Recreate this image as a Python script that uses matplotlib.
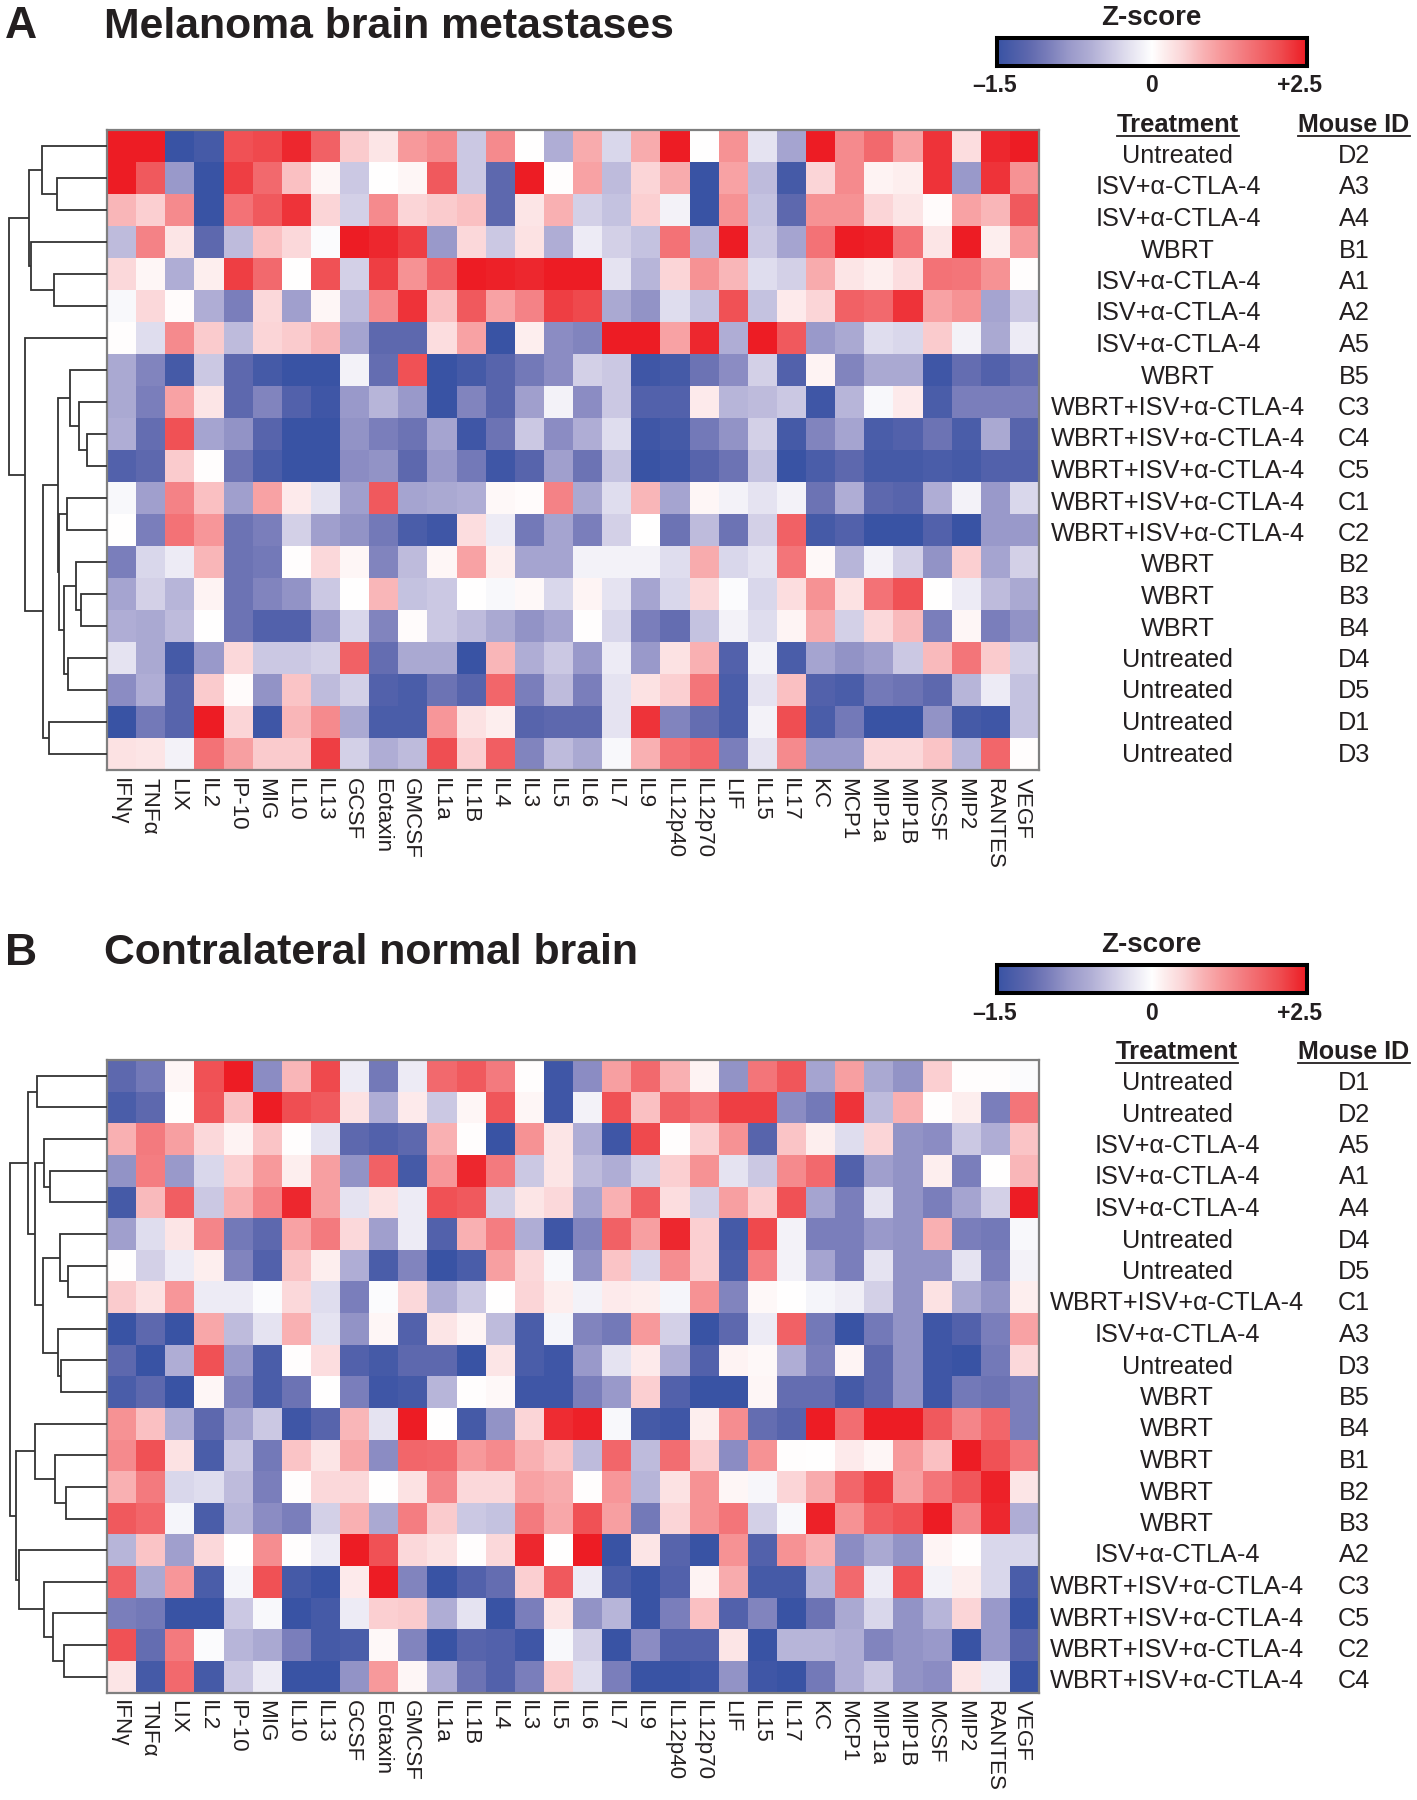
import matplotlib
matplotlib.use("Agg")
import matplotlib.pyplot as plt
from matplotlib.colors import LinearSegmentedColormap, TwoSlopeNorm
from matplotlib.lines import Line2D
import numpy as np

plt.rcParams['font.family'] = ['Liberation Sans', 'DejaVu Sans']

cytokines = ["IFNγ","TNFα","LIX","IL2","IP-10","MIG","IL10","IL13","GCSF","Eotaxin","GMCSF","IL1a","IL1B","IL4","IL3","IL5",
             "IL6","IL7","IL9","IL12p40","IL12p70","LIF","IL15","IL17","KC","MCP1","MIP1a","MIP1B","MCSF","MIP2","RANTES","VEGF"]

U, W, I, C = "Untreated", "WBRT", "ISV+α-CTLA-4", "WBRT+ISV+α-CTLA-4"
treat_a = [U,I,I,W,I,I,I,W,C,C,C,C,C,W,W,W,U,U,U,U]
mouse_a = ["D2","A3","A4","B1","A1","A2","A5","B5","C3","C4","C5","C1","C2","B2","B3","B4","D4","D5","D1","D3"]
treat_b = [U,U,I,I,I,U,U,C,I,U,W,W,W,W,W,I,C,C,C,C]
mouse_b = ["D1","D2","A5","A1","A4","D4","D5","C1","A3","D3","B5","B4","B1","B2","B3","A2","C3","C5","C2","C4"]

z_a = [
[2.5,2.5,-1.5,-1.4,2.0,2.1,2.4,1.8,0.6,0.3,1.1,1.3,-0.4,1.3,0,-0.6, 0.9,-0.3,0.9,2.5,0,1.2,-0.2,-0.7,2.5,1.3,1.7,1.0,2.3,0.4,2.4,2.5],
[2.5,1.9,-0.8,-1.5,2.2,1.7,0.7,0.1,-0.4,0,0.1,1.9,-0.4,-1.2,2.5,0.02, 1.0,-0.5,0.5,0.9,-1.5,1.0,-0.5,-1.4,0.5,1.3,0.15,0.2,2.3,-0.8,2.3,1.2],
[0.8,0.55,1.3,-1.5,1.6,1.9,2.3,0.5,-0.35,1.3,0.5,0.6,0.7,-1.2,0.3,0.85, -0.35,-0.45,0.55,-0.1,-1.5,1.2,-0.45,-1.2,1.2,1.2,0.5,0.3,0.05,1.0,0.8,1.9],
[-0.5,1.4,0.3,-1.2,-0.5,0.7,0.45,-0.03,2.5,2.4,2.2,-0.8,0.45,-0.4,0.35,-0.6, -0.15,-0.35,-0.45,1.6,-0.55,2.5,-0.4,-0.7,1.6,2.5,2.45,1.6,0.3,2.5,0.2,1.1],
[0.45,0.1,-0.6,0.2,2.2,1.7,0,2.0,-0.35,2.2,1.2,1.8,2.5,2.45,2.4,2.5, 2.5,-0.2,-0.55,0.5,1.2,0.8,-0.25,-0.35,0.9,0.3,0.2,0.4,1.6,1.55,1.2,0.02],
[-0.05,0.45,0.05,-0.6,-1.0,0.45,-0.75,0.1,-0.5,1.3,2.3,0.7,1.9,1.0,1.4,2.2, 2.1,-0.65,-0.85,-0.25,-0.45,2.0,-0.45,0.25,0.5,1.8,1.7,2.3,1.0,1.2,-0.7,-0.4],
[0.02,-0.25,1.3,0.6,-0.5,0.5,0.6,0.8,-0.7,-1.2,-1.2,0.4,1.0,-1.5,0.2,-0.9, -0.95,2.5,2.5,1.0,2.4,-0.6,2.5,1.9,-0.8,-0.65,-0.25,-0.3,0.6,-0.1,-0.65,-0.15],
[-0.65,-0.95,-1.4,-0.4,-1.2,-1.4,-1.5,-1.5,-0.1,-1.15,2.0,-1.5,-1.4,-1.25,-1.05,-0.9, -0.35,-0.4,-1.45,-1.4,-1.1,-0.9,-0.35,-1.3,0.15,-0.95,-0.65,-0.65,-1.45,-1.15,-1.3,-1.15],
[-0.65,-1.0,1.0,0.3,-1.2,-0.95,-1.3,-1.45,-0.8,-0.55,-0.8,-1.5,-0.95,-1.25,-0.75,-0.1, -0.9,-0.4,-1.3,-1.3,0.25,-0.55,-0.5,-0.4,-1.45,-0.55,-0.05,0.25,-1.35,-1.0,-1.0,-1.0],
[-0.6,-1.15,2.0,-0.7,-0.85,-1.25,-1.5,-1.5,-0.85,-1.0,-1.1,-0.7,-1.45,-1.1,-0.4,-0.9, -0.6,-0.25,-1.45,-1.4,-1.05,-0.85,-0.35,-1.4,-0.95,-0.7,-1.35,-1.3,-1.1,-1.35,-0.65,-1.25],
[-1.3,-1.2,0.6,0.02,-1.1,-1.35,-1.5,-1.5,-0.9,-0.85,-1.2,-0.8,-1.05,-1.45,-1.25,-0.75, -1.1,-0.45,-1.5,-1.45,-1.25,-1.1,-0.45,-1.5,-1.35,-1.2,-1.4,-1.4,-1.35,-1.4,-1.3,-1.3],
[-0.05,-0.75,1.4,0.7,-0.75,1.0,0.25,-0.2,-0.75,1.9,-0.7,-0.65,-0.6,0.08,0.05,1.4, -0.65,-0.25,0.8,-0.7,0.1,-0.1,-0.2,-0.1,-1.1,-0.6,-1.2,-1.25,-0.6,-0.1,-0.8,-0.3],
[0,-1.0,1.6,1.15,-1.1,-1.0,-0.35,-0.75,-0.85,-1.05,-1.35,-1.45,0.4,-0.15,-1.05,-0.7, -1.0,-0.35,0,-1.1,-0.5,-1.1,-0.35,1.8,-1.4,-1.3,-1.5,-1.5,-1.3,-1.5,-0.8,-0.8],
[-1.0,-0.3,-0.15,0.8,-1.1,-1.05,0.02,0.45,0.1,-0.95,-0.5,0.1,1.0,0.2,-0.7,-0.7, -0.1,-0.1,-0.1,-0.25,0.9,-0.3,-0.2,1.55,0.08,-0.55,-0.1,-0.35,-0.85,0.55,-0.7,-0.35],
[-0.7,-0.35,-0.55,0.15,-1.1,-0.95,-0.85,-0.4,0,0.8,-0.45,-0.4,0,-0.05,0.08,-0.3, 0.12,-0.2,-0.7,-0.3,0.45,-0.03,-0.3,0.4,1.2,0.35,1.6,2.0,0,-0.15,-0.5,-0.65],
[-0.6,-0.65,-0.5,0,-1.1,-1.3,-1.3,-0.8,-0.3,-0.95,0.05,-0.4,-0.5,-0.65,-0.85,-0.7, 0.02,-0.3,-1.0,-1.15,-0.45,-0.1,-0.25,0.12,0.9,-0.35,0.45,0.75,-1.0,0.1,-1.0,-0.85],
[-0.2,-0.65,-1.4,-0.8,0.45,-0.4,-0.4,-0.35,1.8,-1.15,-0.65,-0.65,-1.5,0.8,-0.6,-0.4, -0.8,-0.15,-0.8,0.35,0.85,-1.3,-0.1,-1.35,-0.7,-0.85,-0.75,-0.4,0.75,1.55,0.6,-0.35],
[-0.9,-0.6,-1.25,0.6,0.05,-0.85,0.65,-0.5,-0.35,-1.3,-1.35,-1.1,-1.25,1.75,-1.0,-0.5, -1.0,-0.2,0.35,0.55,1.55,-1.35,-0.2,0.7,-1.3,-1.35,-1.05,-1.1,-1.2,-0.55,-0.15,-0.45],
[-1.5,-1.05,-1.25,2.5,0.5,-1.45,0.8,1.3,-0.65,-1.35,-1.35,1.15,0.35,0.2,-1.25,-1.2, -1.2,-0.2,2.3,-0.95,-1.15,-1.35,-0.1,2.05,-1.35,-1.05,-1.5,-1.5,-0.85,-1.4,-1.45,-0.45],
[0.35,0.3,-0.1,1.6,1.05,0.6,0.6,2.2,-0.35,-0.6,-0.5,2.05,0.55,1.85,-0.95,-0.5, -0.65,-0.05,0.85,1.6,1.75,-1.0,-0.2,1.3,-0.8,-0.8,0.45,0.45,0.65,-0.55,1.75,0.02],
]

z_b = [
[-1.2,-1.05,0.1,2.0,2.5,-0.9,0.8,2.1,-0.15,-1.05,-0.15,1.7,1.9,1.5,0.02,-1.45, -0.9,1.05,1.7,0.85,0.15,-0.85,1.55,1.95,-0.7,1.05,-0.65,-0.85,0.55,0.02,0.02,-0.03],
[-1.35,-1.2,0.03,1.95,0.7,2.5,2.05,1.9,0.35,-0.6,0.25,-0.4,0.1,1.95,0.1,-1.45, -0.1,2.0,0.7,1.8,1.6,2.2,2.2,-0.9,-1.05,2.3,-0.5,0.85,0.03,0.2,-1.0,1.55],
[0.85,1.5,1.05,0.45,0.15,0.65,0.02,-0.2,-1.2,-1.3,-1.2,0.85,0.03,-1.5,1.2,0.3, -0.6,-1.45,2.1,0.03,0.55,1.2,-1.25,0.65,0.2,-0.25,0.5,-0.85,-0.9,-0.4,-0.6,0.65],
[-0.85,1.45,-0.8,-0.3,0.55,1.1,0.2,1.05,-0.85,1.8,-1.4,1.15,2.4,1.5,-0.4,0.3, -0.5,-0.6,-0.35,0.55,1.2,-0.2,-0.4,1.3,1.7,-1.3,-0.75,-0.85,0.2,-1.0,0,0.8],
[-1.4,0.75,1.85,-0.4,0.85,1.4,2.4,1.05,-0.2,0.35,-0.15,2.0,1.9,-0.35,0.3,0.45, -0.7,0.85,1.85,0.4,-0.35,1.05,0.55,2.0,-0.7,-1.0,-0.2,-0.85,-1.0,-0.7,-0.35,2.5],
[-0.75,-0.25,0.3,1.35,-1.05,-1.2,1.0,1.5,0.45,-0.75,-0.15,-1.3,0.85,1.45,-0.6,-1.45, -0.95,1.8,1.05,2.4,0.55,-1.4,2.1,-0.1,-1.0,-1.0,-0.8,-0.85,0.85,-1.0,-1.05,-0.05],
[0,-0.35,-0.15,0.2,-0.95,-1.3,0.65,0.2,-0.6,-1.35,-0.95,-1.5,-1.35,1.05,0.45,-0.05, -0.85,0.65,-0.3,1.25,0.55,-1.35,1.45,-0.1,-0.7,-1.0,-0.2,-0.85,-0.85,-0.2,-1.0,-0.1],
[0.6,0.35,1.15,-0.15,-0.15,-0.03,0.45,-0.25,-1.0,-0.03,0.45,-0.6,-0.4,0.0,0.5,0.2, -0.1,0.25,0.2,-0.08,1.2,-0.95,0.08,0,-0.08,-0.12,-0.35,-0.85,0.35,-0.65,-0.85,0.2],
[-1.5,-1.2,-1.5,0.95,-0.5,-0.2,0.85,-0.2,-0.85,0.1,-1.3,0.3,0.12,-0.5,-1.35,-0.08, -0.95,-1.05,1.1,-0.35,-1.5,-1.2,-0.15,1.8,-1.05,-1.5,-1.05,-0.85,-1.45,-1.3,-1.0,1.0],
[-1.2,-1.5,-0.6,2.0,-0.8,-1.35,0.02,0.4,-1.3,-1.4,-1.2,-1.2,-1.5,0.3,-1.35,-1.45, -0.8,-0.2,0.25,-0.6,-1.3,0.15,0.08,-0.6,-1.0,0.12,-1.2,-0.85,-1.45,-1.5,-1.05,0.45],
[-1.35,-1.2,-1.5,0.1,-0.95,-1.35,-1.1,0,-1.0,-1.45,-1.4,-0.55,0.02,0.08,-1.45,-1.45, -1.0,-0.8,0.55,-1.3,-1.5,-1.5,0.1,-1.15,-1.15,-1.4,-1.2,-0.85,-1.45,-1.05,-1.1,-1.0],
[1.2,0.7,-0.6,-1.2,-0.7,-0.4,-1.45,-1.25,0.8,-0.2,2.5,0,-1.4,-0.85,0.5,2.35, 2.45,-0.05,-1.4,-1.45,0.2,1.25,-1.15,-1.25,2.5,1.65,2.5,2.5,1.9,1.35,1.75,-1.0],
[1.3,2.0,0.35,-1.35,-0.4,-1.05,0.65,0.3,0.95,-0.9,1.75,1.7,1.1,1.3,0.85,0.65, -0.5,1.75,-0.5,1.65,0.55,-0.9,1.2,0.02,0,0.25,0.1,1.1,0.7,2.5,2.0,1.55],
[0.85,1.5,-0.3,-0.25,-0.5,-1.0,0.02,0.45,0.45,0,0.35,1.35,0.45,0.45,1.0,0.9, 0.02,1.15,-0.55,0.35,1.2,0.1,-0.06,0.5,0.9,1.75,2.2,1.05,1.55,1.95,2.45,0.3],
[1.9,1.75,-0.08,-1.35,-0.55,-0.9,-1.0,-0.35,0.85,-0.65,1.45,0.6,-0.4,-0.45,1.5,0.95, 2.0,1.05,-1.05,0.5,1.2,1.55,-0.35,-0.05,2.45,1.2,1.85,2.0,2.5,1.35,2.4,-0.6],
[-0.55,0.65,-0.75,0.45,0,1.25,0.02,-0.15,2.5,2.0,0.45,0.35,0.02,0.45,2.4,0, 2.5,-1.5,0.3,-1.25,-1.5,1.2,-1.3,1.2,0.85,-0.9,-0.65,-0.85,0.12,0.02,-0.3,-0.3],
[1.8,-0.65,1.15,-1.35,-0.08,2.0,-1.4,-1.5,0.25,2.5,-0.95,-1.5,-1.3,-1.15,0.55,1.9, -0.15,-1.35,-1.5,-1.3,0.15,0.9,-1.4,-1.4,-0.55,1.7,-0.15,2.0,-0.1,0.2,-0.3,-1.35],
[-1.0,-1.05,-1.5,-1.5,-0.4,-0.05,-1.5,-1.4,-0.15,0.55,0.6,-0.6,-0.2,-1.5,-1.0,0.3, -0.85,-0.55,-1.5,-1.0,0.7,-1.3,-0.95,-1.5,-1.1,-0.65,-0.3,-0.85,-0.55,0.5,-0.8,-1.5],
[2.0,-1.15,1.5,-0.03,-0.55,-0.65,-1.0,-1.4,-1.35,0.08,-0.95,-1.5,-1.25,-1.3,-1.45,-0.05, -0.35,-1.5,-0.9,-1.3,-1.3,0.3,-1.5,-0.55,-0.55,-0.6,-0.95,-0.85,-0.8,-1.5,-0.8,-1.25],
[0.3,-1.4,1.7,-1.4,-0.4,-0.15,-1.5,-1.5,-0.85,1.1,0.1,-0.6,-1.1,-1.3,-1.0,0.6, -0.25,-1.0,-1.5,-1.5,-1.45,-0.85,-1.45,-1.5,-1.05,-0.6,-0.4,-0.85,-0.9,0.3,-0.15,-1.5],
]

# Dendrograms as nested merges: (merge height, child, child); integer leaves are rows
tree_a = (98.5,
  (78.5, (65.2, 0, (50.4, 1, 2)), (75.6, 3, (53.4, 4, 5))),
  (82.0, 6, (63.7,
     (49.0, (37.0, 7, (28.2, 8, (19.7, 9, 10))),
            (48.0, (40.4, 11, 12), (43.4, (31.2, 13, (25.6, 14, 15)), (38.6, 16, 17)))),
     (57.8, 18, 19))))
tree_b = (97.0,
  (79.3, (70.0, 0, 1),
         (72.0, (62.6, 2, (57.0, 3, 4)),
                (64.5, (47.0, 5, (39.3, 6, 7)), (48.5, 8, (46.0, 9, 10))))),
  (91.0, (72.0, 11, (51.5, 12, (41.0, 13, 14))),
         (88.5, 15, (63.3, 16, (54.0, 17, (43.0, 18, 19))))))

W_PX, H_PX = 1417, 1800
HEAT_L, HEAT_R = 107, 1039
GREY = "#7f7f7f"
INK = "#231F20"
# Colour ramp: stop position on the normalised -1.5 .. 0 .. +2.5 scale, then colour
ramp_pos = [0.0, 0.1, 0.167, 0.233, 0.3, 0.367, 0.433, 0.5, 0.54, 0.6, 0.66, 0.72, 0.78, 0.84, 0.92, 1.0]
ramp_col = ["#3953A4", "#5E68AE", "#7B7FBB", "#9A9ACA", "#B0AED5", "#CCC9E4", "#E6E4F1", "#FFFFFF",
            "#FDEEEE", "#FBD5D7", "#F9B5B7", "#F79A9C", "#F48286", "#F26A6E", "#EF4A4E", "#ED1C24"]
cmap = LinearSegmentedColormap.from_list("z", list(zip(ramp_pos, ramp_col)))
norm = TwoSlopeNorm(vmin=-1.5, vcenter=0, vmax=2.5)

fig = plt.figure(figsize=(W_PX/100, H_PX/100), dpi=100, facecolor="white")

def px_axes(l, t, r, b):
    return fig.add_axes([l/W_PX, 1-b/H_PX, (r-l)/W_PX, (b-t)/H_PX])

over = fig.add_axes([0, 0, 1, 1], zorder=5)
over.set_xlim(0, W_PX); over.set_ylim(H_PX, 0); over.axis("off"); over.patch.set_alpha(0)

def draw_tree(ax, node):
    if isinstance(node, int):
        return 0.0, node + 0.5
    h, a, b = node
    ha, ya = draw_tree(ax, a)
    hb, yb = draw_tree(ax, b)
    ax.plot([ha, h, h, hb], [ya, ya, yb, yb], color="#333333", lw=1.3, solid_joinstyle="miter", solid_capstyle="butt")
    return h, (ya + yb) / 2

def underlined(x, y, s, size):
    t = over.text(x, y, s, fontsize=size, fontweight="bold", ha="center", va="center", color=INK)
    bb = t.get_window_extent(fig.canvas.get_renderer())
    over.add_line(Line2D([bb.x0, bb.x1], [y + 11, y + 11], color=INK, lw=1.3))

def panel(letter, title, z, tree, treat, mouse, top, bottom, shift, hdr_y, row_y0, tx):
    data = np.array(z)
    ax = px_axes(HEAT_L, top, HEAT_R, bottom)
    ax.pcolormesh(np.arange(33), np.arange(21), data, cmap=cmap, norm=norm, linewidth=0, rasterized=True)
    ax.set_ylim(20, 0); ax.set_xlim(0, 32)
    ax.set_xticks([]); ax.set_yticks([])
    for s in ax.spines.values():
        s.set_color(GREY); s.set_linewidth(1.6)

    d = px_axes(0, top, HEAT_L, bottom)
    d.set_xlim(HEAT_L, 0); d.set_ylim(20, 0); d.axis("off")
    draw_tree(d, tree)

    col_w = (HEAT_R - HEAT_L) / 32
    for i, name in enumerate(cytokines):
        over.text(HEAT_L + (i + .5) * col_w - 2, bottom + 8, name, rotation=270, ha="center", va="top",
                  fontsize=16.1, color=INK)

    over.text(5, 26.5 + shift, letter, fontsize=32, fontweight="bold", va="center", ha="left", color=INK)
    over.text(104.5, 26.5 + shift, title, fontsize=30.75, fontweight="bold", va="center", ha="left", color=INK)

    over.text(1151, 18 + shift, "Z-score", fontsize=20, fontweight="bold", ha="center", va="center", color=INK)
    cb = px_axes(997, 38 + shift, 1307, 66 + shift)
    cb.imshow(np.linspace(0, 1, 256)[None, :], cmap=cmap, aspect="auto", vmin=0, vmax=1)
    cb.set_xticks([]); cb.set_yticks([])
    for s in cb.spines.values():
        s.set_color("black"); s.set_linewidth(2.9)
    for x, s in [(995, "–1.5"), (1151, "0"), (1300, "+2.5")]:
        over.text(x, 86 + shift, s, fontsize=16.5, fontweight="bold", ha="center", va="center", color=INK)

    underlined(tx, hdr_y, "Treatment", 18.4)
    underlined(1354, hdr_y, "Mouse ID", 18.1)
    for i, (t, m) in enumerate(zip(treat, mouse)):
        y = row_y0 + 31.5 * i
        over.text(tx, y, t, fontsize=18.2, ha="center", va="center", color=INK)
        over.text(1354, y, m, fontsize=18.2, ha="center", va="center", color=INK)

fig.canvas.draw()
panel("A", "Melanoma brain metastases", z_a, tree_a, treat_a, mouse_a, 129.5, 770, 0, 125, 156, 1178)
panel("B", "Contralateral normal brain", z_b, tree_b, treat_b, mouse_b, 1060, 1692.5, 927, 1052, 1083, 1177)

fig.savefig("out.png", dpi=100, facecolor="white")
